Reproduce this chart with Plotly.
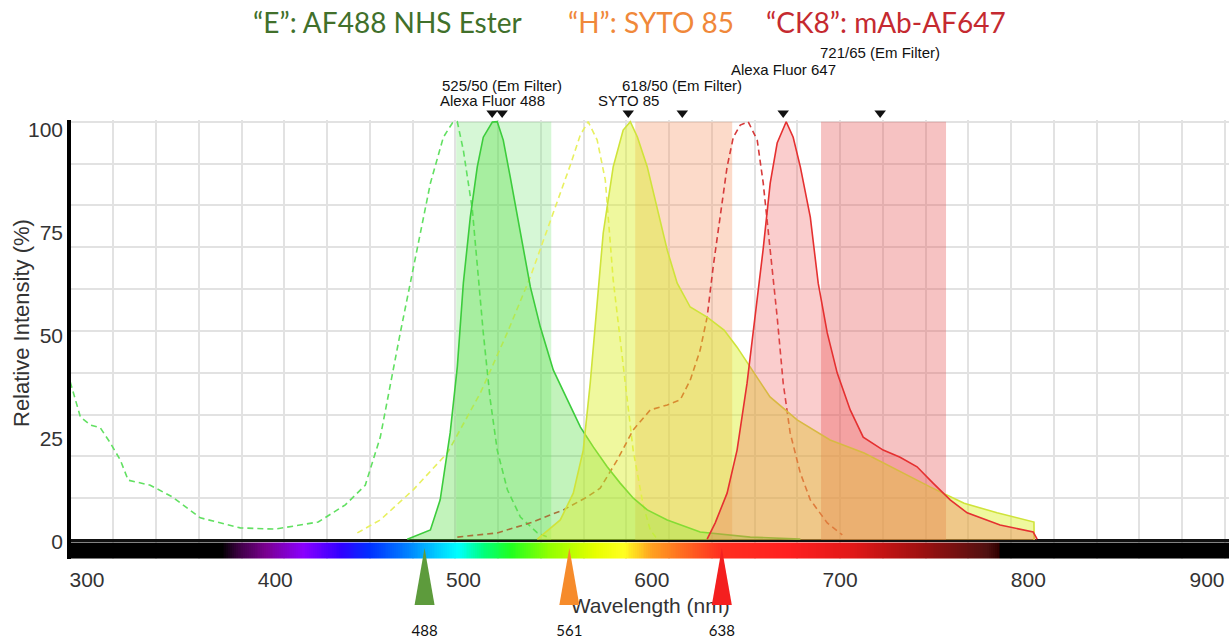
import numpy as np
import plotly.graph_objects as go

# ---------------- data ----------------
# Alexa Fluor 488 excitation (dashed) / emission (solid, filled)
af488_ex_nm = [291.1, 296.5, 301.8, 307.1, 312.4, 317.7, 321.9, 333.6, 345.3, 360.2, 381.4, 400.0,
               422.8, 437.2, 447.8, 455.8, 466.4, 473.3, 482.4, 489.3, 494.1, 496.7, 499.9, 504.7,
               507.3, 510.5, 514.2, 517.9, 523.3, 530.2, 539.2, 544.5]
af488_ex_val = [37.8, 29.4, 27.5, 26.8, 23.2, 19.1, 14.3, 13.1, 10.3, 5.3, 2.9, 2.6,
                4.3, 8.4, 13.1, 24.6, 49.5, 65.3, 85.3, 96.3, 99.7, 100, 93.2, 78.9,
                65.3, 49.5, 33.5, 21.5, 12.0, 5.5, 1.7, 0.7]
af488_em_nm = [470.1, 482.4, 487.6, 492.9, 496.7, 499.9, 503.6, 507.3, 510.5, 515.3, 517.9, 521.1,
               524.8, 530.2, 535.5, 540.8, 547.7, 555.2, 562.1, 569.0, 576.3, 583.2, 590.2, 597.6,
               608.2, 625.7, 652.3, 678.9]
af488_em_val = [0.2, 2.4, 9.6, 25.6, 41.4, 61.4, 77.2, 89.2, 96.3, 99.9, 100, 95.6,
                86.8, 73.4, 60.5, 50.9, 40.6, 33.5, 27.0, 22.2, 17.5, 13.6, 10.0, 7.2,
                4.8, 1.9, 0.7, 0.2]

# SYTO 85
syto85_ex_nm = [443.6, 455.8, 473.3, 491.4, 508.9, 523.2, 535.5, 547.7, 556.7, 562.0, 566.2, 571.0,
                575.3, 579.5, 583.2, 586.9, 590.1, 595.4, 599.2, 602.4]
syto85_ex_val = [1.7, 4.8, 12.0, 20.8, 35.1, 49.5, 62.9, 78.2, 89.6, 96.8, 100, 95.6,
                 86.1, 62.2, 47.8, 33.5, 21.5, 8.4, 2.4, 0.5]
syto85_em_nm = [539.2, 551.4, 558.3, 563.6, 567.3, 571.0, 574.2, 579.5, 584.8, 588.6, 592.4, 597.6,
                602.9, 608.2, 613.5, 620.4, 629.4, 638.4, 645.3, 654.3, 662.8, 677.2, 694.7, 712.8,
                730.3, 747.8, 765.9, 783.4, 803.0, 803.1]
syto85_em_val = [0.2, 4.8, 11.2, 21.5, 37.5, 57.4, 73.4, 89.2, 98.0, 100, 96.3, 89.2,
                 78.9, 69.3, 61.4, 55.7, 53.3, 50.2, 46.1, 39.9, 34.2, 28.7, 23.9, 20.8,
                 16.7, 12.7, 8.8, 6.5, 4.3, 0.0]

# Alexa Fluor 647
af647_ex_nm = [496.7, 517.9, 535.5, 553.0, 565.7, 572.6, 581.6, 590.1, 599.2, 608.2, 615.1, 620.4,
               625.7, 629.4, 632.6, 636.3, 640.0, 643.3, 647.0, 651.2, 656.0, 659.2, 662.9, 666.6,
               669.8, 673.5, 678.9, 684.2, 693.2, 701.2]
af647_ex_val = [0.7, 1.7, 4.1, 7.2, 10.3, 12.4, 19.1, 26.3, 31.1, 32.3, 33.5, 38.2,
                45.4, 53.3, 65.3, 77.2, 89.2, 96.3, 99.2, 100, 95.6, 85.3, 69.3, 53.3,
                37.5, 25.6, 16.0, 9.6, 4.1, 1.2]
af647_em_nm = [629.4, 633.7, 640.0, 645.3, 650.6, 654.8, 659.1, 662.9, 666.6, 671.4, 675.1, 678.9,
               684.2, 688.4, 693.2, 698.5, 705.4, 712.3, 722.9, 731.9, 740.9, 749.4, 758.5, 767.5,
               785.0, 802.6, 804.7]
af647_em_val = [0.2, 4.1, 11.2, 21.5, 37.5, 53.3, 69.3, 85.3, 94.9, 100, 96.3, 89.2,
                77.2, 61.4, 49.5, 39.9, 31.1, 24.6, 21.5, 19.8, 17.5, 13.6, 9.6, 6.5,
                3.6, 1.9, 0.2]

# Emission filters (band edges as drawn, nm)
filter_names = ["525/50 (Em Filter)", "618/50 (Em Filter)", "721/65 (Em Filter)"]
filter_lo = [496.1, 591.2, 689.9]
filter_hi = [546.6, 642.7, 756.3]

# Peak / filter markers on top of the chart
marker_labels = ["Alexa Fluor 488", "525/50 (Em Filter)", "SYTO 85",
                 "618/50 (Em Filter)", "Alexa Fluor 647", "721/65 (Em Filter)"]
marker_nm = [515.2, 520.5, 587.5, 616.2, 669.8, 721.3]

# Laser lines (label, position as drawn)
laser_labels = ["488", "561", "638"]
laser_nm = [479.3, 556.2, 637.2]

# Visible-spectrum bar colour stops (nm, colour)
spectrum_nm = [372, 380, 395, 415, 435, 450, 470, 485, 497, 510, 525, 545, 570, 585,
               600, 620, 636, 672, 707, 742, 778, 784, 785]
spectrum_col = ["#000000", "#3a0040", "#7a0090", "#8a00ff", "#3000ff", "#0030ff", "#0080ff",
                "#00c8ff", "#00ffff", "#00ff80", "#20ff20", "#90ff00", "#e8ff00", "#ffff20",
                "#ffa020", "#ff6020", "#ff3020", "#ff2020", "#e01818", "#a01010", "#501010",
                "#300000", "#000000"]

x_ticks = [300, 400, 500, 600, 700, 800, 900]
y_ticks = [0, 25, 50, 75, 100]

titles = ["\u201cE\u201d: AF488 NHS Ester", "\u201cH\u201d: SYTO 85", "\u201cCK8\u201d: mAb-AF647"]

# ---------------- layout geometry (pixels) ----------------
W, H = 1229, 643
ML = 71
PW = W - ML
XR = [291.5, 906.6]
YR = [-4.54, 100.41]
PX_PER_NM = PW / (XR[1] - XR[0])


def ypaper(py):
    return (H - py) / H


def xpaper(px):
    return (px - ML) / PW


fig = go.Figure()

# spectrum bar
xs = np.arange(XR[0], XR[1] + 1, 1.0)
zmin, zmax = xs[0], xs[-1]
cs = [[0.0, "#000000"]]
for nm, c in zip(spectrum_nm, spectrum_col):
    cs.append([(nm - zmin) / (zmax - zmin), c])
cs.append([1.0, "#000000"])
fig.add_trace(go.Heatmap(x=xs, y=[-3.555, -1.585], z=[xs, xs], colorscale=cs, zmin=zmin, zmax=zmax,
                         showscale=False, hoverinfo="skip"))

# filter bands
band_cols = ["rgba(120,230,120,0.30)", "rgba(245,150,100,0.35)", "rgba(230,80,80,0.35)"]
for lo, hi, c in zip(filter_lo, filter_hi, band_cols):
    fig.add_trace(go.Scatter(x=[lo, hi, hi, lo, lo], y=[0, 0, 100, 100, 0], fill="toself",
                             fillcolor=c, mode="none", hoverinfo="skip", showlegend=False))

# excitation (dashed)
for xx, yy, c in [(af488_ex_nm, af488_ex_val, "#62e062"),
                  (syto85_ex_nm, syto85_ex_val, "#e8f060"),
                  (af647_ex_nm, af647_ex_val, "#d63a3a")]:
    fig.add_trace(go.Scatter(x=xx, y=yy, mode="lines", line=dict(color=c, width=1.6, dash="6px,4px"),
                             hoverinfo="skip", showlegend=False))

# emission (solid, filled)
for xx, yy, c, f in [(af488_em_nm, af488_em_val, "#3ccc3c", "rgba(80,220,60,0.35)"),
                     (syto85_em_nm, syto85_em_val, "#cfe33a", "rgba(220,240,40,0.45)"),
                     (af647_em_nm, af647_em_val, "#e53030", "rgba(240,90,90,0.30)")]:
    fig.add_trace(go.Scatter(x=xx, y=yy, mode="lines", line=dict(color=c, width=1.6),
                             fill="tozeroy", fillcolor=f, hoverinfo="skip", showlegend=False))

# dummy trace for label axes
fig.add_trace(go.Scatter(x=[None], y=[None], xaxis="x2", yaxis="y2", showlegend=False, hoverinfo="skip"))

# top strip: peak / filter markers
fig.add_trace(go.Scatter(x=marker_nm, y=[H - 113] * len(marker_nm), mode="markers",
                         marker=dict(symbol="triangle-down", size=10, color="#111"),
                         xaxis="x4", yaxis="y4", cliponaxis=False, hoverinfo="skip", showlegend=False))

# bottom strip: axis title + laser markers
fig.add_trace(go.Scatter(x=[300 + (650 - 86.7) / 1.883], y=[H - 608], mode="text",
                         text=["Wavelength (nm)"], textfont=dict(family="Liberation Sans", size=21, color="#333"),
                         xaxis="x3", yaxis="y3", hoverinfo="skip", showlegend=False, cliponaxis=False))
laser_cols = ["#5d9b3c", "#f68b2b", "#f41f1f"]
hw = 10 / PX_PER_NM
for nm, c in zip(laser_nm, laser_cols):
    fig.add_trace(go.Scatter(x=[nm - hw, nm, nm + hw, nm - hw], y=[38, 95, 38, 38], fill="toself",
                             fillcolor=c, mode="none", xaxis="x3", yaxis="y3",
                             hoverinfo="skip", showlegend=False))
fig.add_trace(go.Scatter(x=laser_nm, y=[11] * 3, mode="text", text=laser_labels,
                         textfont=dict(family="Lato", size=15, color="#111"),
                         xaxis="x3", yaxis="y3", hoverinfo="skip", showlegend=False, cliponaxis=False))

# annotations: marker labels
label_py = [101, 85, 101, 85, 69, 53]
ann = []
for t, nm, py in zip(marker_labels, marker_nm, label_py):
    ann.append(dict(x=nm, xref="x", y=ypaper(py), yref="paper", text=t, showarrow=False,
                    font=dict(family="Liberation Sans", size=15, color="#111"),
                    xanchor="center", yanchor="middle"))
title_px = [387, 651, 886]
title_cols = ["#41702b", "#f0883a", "#c52a30"]
for t, px, c in zip(titles, title_px, title_cols):
    ann.append(dict(x=xpaper(px), xref="paper", y=ypaper(22), yref="paper", text=t, showarrow=False,
                    font=dict(family="Lato", size=28, color=c), xanchor="center", yanchor="middle"))
ann.append(dict(x=xpaper(22), xref="paper", y=ypaper(323), yref="paper", text="Relative Intensity (%)",
                showarrow=False, textangle=-90, font=dict(family="Liberation Sans", size=22, color="#333"),
                xanchor="center", yanchor="middle"))

# keep the last x label inside the page (the reference nudges it left)
half_label_nm = 22 / PX_PER_NM
x_tick_pos = [min(v, XR[1] - half_label_nm) for v in x_ticks]

grid_col = "#e2e2e2"
fig.update_layout(
    width=W, height=H, margin=dict(l=ML, r=0, t=0, b=0, autoexpand=False),
    paper_bgcolor="white", plot_bgcolor="rgba(0,0,0,0)",
    font=dict(family="Liberation Sans", color="#333"),
    showlegend=False,
    annotations=ann,
    xaxis=dict(range=XR, domain=[0, 1], anchor="y", tickmode="linear", tick0=314.0, dtick=22.71,
               showgrid=True, gridcolor=grid_col, gridwidth=1.5, showticklabels=False, ticks="",
               zeroline=False, showline=False, fixedrange=True),
    yaxis=dict(range=YR, domain=[(H - 559) / H, (H - 120) / H], anchor="x", tickmode="linear", tick0=0,
               dtick=10, showgrid=True, gridcolor=grid_col, gridwidth=1.5, showticklabels=False, ticks="",
               zeroline=True, zerolinecolor="#111", zerolinewidth=2.5, showline=False, fixedrange=True),
    xaxis2=dict(range=XR, overlaying="x", anchor="y", side="bottom", tickmode="array", tickvals=x_tick_pos,
                ticktext=[str(v) for v in x_ticks],
                showgrid=False, zeroline=False, showline=False, ticks="", ticklabeloverflow="allow",
                tickfont=dict(size=21, color="#333"), ticklabelstandoff=6),
    yaxis2=dict(range=[-4.13, 102.43], overlaying="y", anchor="x", side="left", tickmode="array",
                tickvals=y_ticks, showgrid=False, zeroline=False, showline=True, linecolor="#000",
                linewidth=3.5, ticks="", tickfont=dict(size=21, color="#333")),
    xaxis3=dict(range=XR, domain=[0, 1], anchor="y3", visible=False, fixedrange=True),
    yaxis3=dict(range=[0, 102], domain=[0, 102 / H], anchor="x3", visible=False, fixedrange=True),
    xaxis4=dict(range=XR, domain=[0, 1], anchor="y4", visible=False, fixedrange=True),
    yaxis4=dict(range=[H - 121, H], domain=[(H - 121) / H, 1], anchor="x4", visible=False, fixedrange=True),
)

fig.write_html("out.html")
